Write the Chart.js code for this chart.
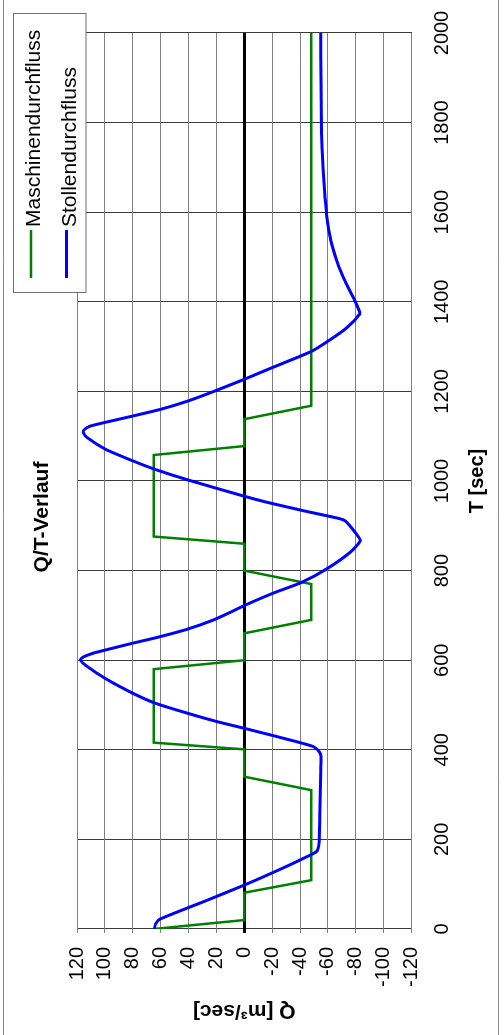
<!DOCTYPE html>
<html>
<head>
<meta charset="utf-8">
<title>Q/T-Verlauf</title>
<script src="https://cdn.jsdelivr.net/npm/chart.js@4/dist/chart.umd.min.js"></script>
<style>
  html, body { margin: 0; padding: 0; background: #fff; overflow: hidden; }
  body { width: 504px; height: 1035px; position: relative; }
  /* chart is laid out landscape and turned a quarter to the left */
  #wrap {
    position: absolute; left: 0; top: 0;
    width: 1035px; height: 504px;
    transform-origin: 0 0;
    transform: translate(0, 1035px) rotate(-90deg);
  }
</style>
</head>
<body>
<div id="wrap"><canvas id="qtChart" width="1035" height="504"></canvas></div>
<script>
// Maschinendurchfluss (turbine flow), piecewise linear
const maschTime = [0, 20, 81, 109, 310, 340, 401, 416, 580, 600, 660, 690, 770, 800, 860, 876, 1058, 1078, 1138, 1168, 2000];
const maschFlow = [65, 0, 0, -48, -48, 0, 0, 65, 65, 0, 0, -48, -48, 0, 0, 65, 65, 0, 0, -48, -48];

// Stollendurchfluss (tunnel flow)
const stollenTime = [0, 12, 22, 60, 98, 135, 160, 172, 180, 190, 250, 300, 350, 385, 395, 407, 420, 448, 463, 481, 504, 526, 559, 589, 600, 605, 610, 616, 624, 638, 652, 669, 690, 707, 722, 750, 774, 804, 841, 867, 885, 911, 916, 934, 952, 966, 1002, 1026, 1045, 1071, 1097, 1108, 1114, 1122, 1130, 1145, 1160, 1179, 1201, 1227, 1253, 1289, 1312, 1342, 1372, 1380, 1396, 1420, 1446, 1470, 1491, 1515, 1535, 1560, 1595, 1650, 1700, 1776, 1900, 2000];
const stollenFlow = [64.5, 63.5, 60.5, 30, 0, -27, -44, -51.5, -53, -53.6, -54.2, -54.6, -54.8, -55, -54, -49.7, -35.3, 0, 19.6, 40, 63.8, 79.8, 99.6, 114, 117.5, 116.5, 113.5, 108, 98, 80, 61, 41, 22, 10, 0, -21, -41.4, -59.3, -76, -83.2, -79.6, -72.4, -68.5, -42, -17, 0, 40, 64, 80, 99.6, 112.8, 115.5, 115, 111, 101, 80, 60, 40, 21, 0, -20, -48, -60, -73.6, -82.7, -82.5, -80.3, -76.5, -72.4, -69, -66.5, -64, -62.3, -60.6, -59, -57.5, -56.5, -55.5, -55, -54.8];

const timeTicks = { min: 0, max: 2000, step: 200 };
const flowTicks = { min: -120, max: 120, step: 20 };

const FONT = "'Liberation Sans', Arial, sans-serif";

function toPoints(xs, ys) {
  return xs.map((x, i) => ({ x: x, y: ys[i] }));
}

// title, legend and frame are painted by hand on top of the plot
const decorations = {
  id: 'decorations',
  afterDraw(chart) {
    const ctx = chart.ctx;
    ctx.save();

    // outer frame
    ctx.strokeStyle = '#8a8a8a';
    ctx.lineWidth = 1;
    ctx.beginPath();
    ctx.moveTo(0, 3.5); ctx.lineTo(1035, 3.5);
    ctx.moveTo(0, 498.5); ctx.lineTo(1035, 498.5);
    ctx.stroke();

    // title
    ctx.fillStyle = '#000';
    ctx.font = 'bold 21px ' + FONT;
    ctx.textAlign = 'center';
    ctx.textBaseline = 'alphabetic';
    ctx.fillText('Q/T-Verlauf', 518, 48);

    // legend box
    const lx = 742.5, ly = 13.5, lw = 279, lh = 72.5;
    ctx.fillStyle = '#fff';
    ctx.fillRect(lx, ly, lw, lh);
    ctx.strokeStyle = '#707070';
    ctx.strokeRect(lx, ly, lw, lh);

    const rows = [31, 66.5];
    chart.data.datasets.forEach((ds, i) => {
      const y = rows[i];
      ctx.strokeStyle = ds.borderColor;
      ctx.lineWidth = ds.borderWidth;
      ctx.beginPath();
      ctx.moveTo(757, y);
      ctx.lineTo(805, y);
      ctx.stroke();
      ctx.fillStyle = '#000';
      ctx.font = '21px ' + FONT;
      ctx.textAlign = 'left';
      ctx.textBaseline = 'alphabetic';
      ctx.fillText(ds.label, 808, y + 9);
    });

    ctx.restore();
  }
};

new Chart(document.getElementById('qtChart'), {
  type: 'line',
  data: {
    datasets: [
      {
        label: 'Maschinendurchfluss',
        data: toPoints(maschTime, maschFlow),
        borderColor: '#008000',
        borderWidth: 2.5,
        pointRadius: 0,
        tension: 0,
        order: 1
      },
      {
        label: 'Stollendurchfluss',
        data: toPoints(stollenTime, stollenFlow),
        borderColor: '#0000ff',
        borderWidth: 3,
        pointRadius: 0,
        tension: 0.2,
        order: 0
      }
    ]
  },
  options: {
    responsive: false,
    animation: false,
    layout: { padding: { top: 77, right: 33, bottom: 0, left: 0 } },
    plugins: {
      legend: { display: false },
      title: { display: false },
      tooltip: { enabled: false }
    },
    scales: {
      x: {
        type: 'linear',
        min: timeTicks.min,
        max: timeTicks.max,
        border: { display: false },
        grid: { color: '#3a3a3a', lineWidth: 1, drawTicks: false },
        ticks: {
          stepSize: timeTicks.step,
          padding: 19,
          color: '#000',
          font: { family: FONT, size: 20 },
          maxRotation: 0,
          callback: v => String(v)
        },
        title: {
          display: true,
          text: 'T [sec]',
          color: '#000',
          font: { family: FONT, size: 20, weight: 'bold' },
          padding: { top: 0, bottom: 15 }
        },
        afterFit(scale) {
          scale.height = 92.5;
          scale.paddingLeft = 0;
          scale.paddingRight = 0;
        }
      },
      y: {
        min: flowTicks.min,
        max: flowTicks.max,
        border: { display: false },
        grid: {
          color: c => c.tick && c.tick.value === 0 ? '#000' : '#808080',
          lineWidth: c => c.tick && c.tick.value === 0 ? 3 : 1,
          tickLength: 4
        },
        ticks: {
          stepSize: flowTicks.step,
          padding: 14,
          color: '#000',
          font: { family: FONT, size: 20 },
          callback: v => String(v)
        },
        title: {
          display: true,
          text: 'Q [m³/sec]',
          color: '#000',
          font: { family: FONT, size: 21, weight: 'bold' },
          padding: { top: 12, bottom: 0 }
        },
        afterFit(scale) {
          scale.width = 106;
          scale.paddingTop = 0;
          scale.paddingBottom = 0;
        }
      }
    }
  },
  plugins: [decorations]
});
</script>
</body>
</html>
